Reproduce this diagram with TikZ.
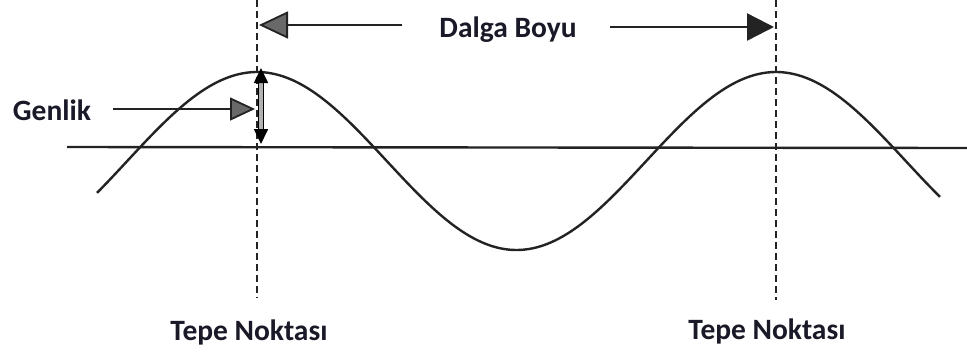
\documentclass[tikz,border=0pt]{standalone}
\usepackage{fontspec}
\setmainfont{Carlito}
\usetikzlibrary{arrows.meta}
\definecolor{txt}{RGB}{25,25,40}
\definecolor{ink}{RGB}{35,35,35}
\definecolor{headgrey}{RGB}{105,105,105}
\begin{document}
\begin{tikzpicture}[x=1pt,y=-1pt,
  lbl/.style={font=\fontsize{29.5}{31}\selectfont\bfseries, text=txt, inner sep=0pt, anchor=base},
  wave/.style={line width=2.4pt, ink},
  guide/.style={line width=2.4pt, ink, dash pattern=on 7pt off 4pt},
  greyarrow/.style={line width=2.4pt, ink, -{Triangle[length=29pt,width=27pt,fill=headgrey,line width=1.8pt]}},
  darkarrow/.style={line width=2.4pt, ink, -{Triangle[length=27pt,width=27pt,fill=ink]}},
  amparrow/.style={line width=1.7pt, black, double=gray!60, double distance=3.5pt,
     {Triangle[length=15pt,width=14pt,fill=black]}-{Triangle[length=15pt,width=14pt,fill=black]}}
]
\useasboundingbox (0,0) rectangle (967,354);
\fill[white] (0,0) rectangle (967,354);

% axis
\coordinate (axl) at (67,147);
\coordinate (axr) at (967,148);
\draw[line width=2.4pt, ink] (axl) -- (axr);

% wave
\draw[wave, domain=97:940, samples=220] plot (\x, {161 - 89*cos((\x-257)/519*360)});

% dashed guides
\coordinate (d1t) at (257,0);
\coordinate (d1b) at (257,298);
\coordinate (d2t) at (776,0);
\coordinate (d2b) at (776,300);
\draw[guide] (d1t) -- (d1b);
\draw[guide] (d2t) -- (d2b);

% labels
\node[lbl] (dalga) at (508,37) {Dalga Boyu};
\node[lbl] (genlik) at (52,120) {Genlik};
\node[lbl] (tepe1) at (249,340) {Tepe Noktası};
\node[lbl] (tepe2) at (767,339) {Tepe Noktası};

% wavelength arrows
\coordinate (wlL) at (259,25);
\coordinate (wlR) at (774,27);
\coordinate (wlLs) at (402,25);
\coordinate (wlRs) at (610,27);
\draw[greyarrow] (wlLs) -- (wlL);
\draw[darkarrow] (wlRs) -- (wlR);

% amplitude
\coordinate (gs) at (113,109);
\coordinate (ge) at (255,109);
\draw[line width=2.4pt, ink, -{Triangle[length=25pt,width=23pt,fill=headgrey,line width=1.8pt]}] (gs) -- (ge);
\coordinate (at) at (261,68);
\coordinate (ab) at (261,144);
\draw[amparrow] (ab) -- (at);
\end{tikzpicture}
\end{document}
